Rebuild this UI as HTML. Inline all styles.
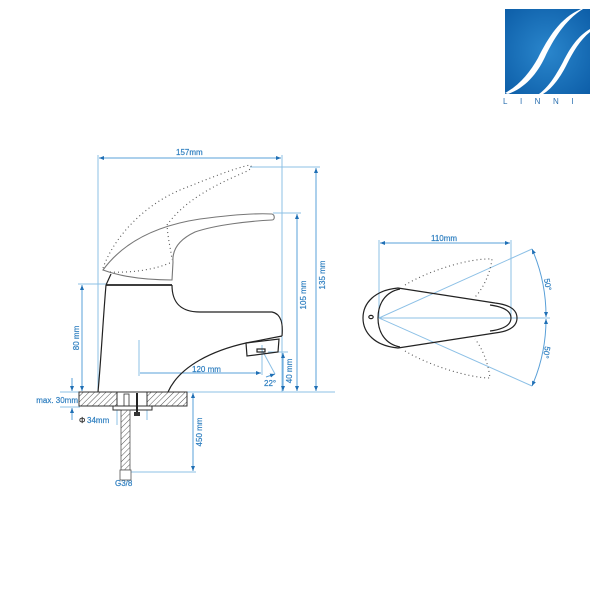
<!DOCTYPE html>
<html><head><meta charset="utf-8"><style>
html,body{margin:0;padding:0;background:#fff;}
svg{display:block}
text{font-family:"Liberation Sans",Arial,sans-serif;fill:#2f7fc0;stroke:#2f7fc0;stroke-width:0.2;}
</style></head><body>
<svg width="600" height="600" viewBox="0 0 600 600" xmlns="http://www.w3.org/2000/svg">
<defs>
<marker id="a" viewBox="0 0 10 10" refX="10" refY="5" markerWidth="5" markerHeight="5" orient="auto-start-reverse"><path d="M0,1 L10,5 L0,9z" fill="#1f6fb5"/></marker>
<pattern id="h" width="4" height="4" patternUnits="userSpaceOnUse" patternTransform="rotate(45)"><line x1="0" y1="0" x2="0" y2="4" stroke="#555" stroke-width="1"/></pattern>
<radialGradient id="lg" cx="0.5" cy="0.5" r="0.7"><stop offset="0" stop-color="#2a86cc"/><stop offset="1" stop-color="#0d5ea8"/></radialGradient>
</defs>

<!-- Logo -->
<rect x="505" y="9" width="85" height="85" fill="url(#lg)"/>
<path d="M505,93 C520,85 530,72 538,58 C548,38 560,18 581,9 L583,9 C565,20 553,40 545,57 C537,74 525,88 508,94z" fill="#fff"/>
<path d="M539,94 C550,86 557,73 563,62 C570,48 578,36 590,29 L590,32 C580,40 573,52 567,64 C561,76 553,88 543,94z" fill="#fff"/>
<text x="503" y="104" font-size="8" letter-spacing="12.5" style="fill:#2a6fb0;stroke:none">LINNI</text>

<g stroke="#8cc0e6" stroke-width="1" fill="none">
<line x1="98" y1="155" x2="98" y2="392"/>
<line x1="282" y1="155" x2="282" y2="392"/>
<line x1="250" y1="167" x2="320" y2="167"/>
<line x1="273" y1="213" x2="301" y2="213"/>
<line x1="78" y1="284" x2="106" y2="284"/>
<line x1="60" y1="392" x2="335" y2="392"/>
<line x1="60" y1="407" x2="80" y2="407"/>
<line x1="139" y1="340" x2="139" y2="376"/>
<line x1="268" y1="352" x2="288" y2="352"/>
<line x1="262" y1="345" x2="262" y2="375"/>
<line x1="262" y1="350" x2="275" y2="374"/>
<line x1="130" y1="472" x2="196" y2="472"/>
<line x1="147" y1="407" x2="147" y2="420"/>
<line x1="117" y1="410" x2="117" y2="425"/>
<line x1="379" y1="240" x2="379" y2="318"/>
<line x1="511" y1="240" x2="511" y2="318"/>
<line x1="379" y1="318" x2="550" y2="318"/>
<line x1="379" y1="318" x2="532" y2="249"/>
<line x1="379" y1="318" x2="532" y2="386"/>
</g>
<g stroke="#5aa0d8" stroke-width="1" fill="none">
<line x1="99" y1="158" x2="281" y2="158" marker-start="url(#a)" marker-end="url(#a)"/>
<line x1="316" y1="168" x2="316" y2="391" marker-start="url(#a)" marker-end="url(#a)"/>
<line x1="297" y1="214" x2="297" y2="391" marker-start="url(#a)" marker-end="url(#a)"/>
<line x1="82" y1="285" x2="82" y2="391" marker-start="url(#a)" marker-end="url(#a)"/>
<line x1="140" y1="373" x2="261" y2="373" marker-end="url(#a)"/>
<line x1="283" y1="353" x2="283" y2="391" marker-start="url(#a)" marker-end="url(#a)"/>
<line x1="193" y1="393" x2="193" y2="471" marker-start="url(#a)" marker-end="url(#a)"/>
<line x1="72" y1="378" x2="72" y2="391" marker-end="url(#a)"/>
<line x1="72" y1="420" x2="72" y2="408" marker-end="url(#a)"/>
<line x1="380" y1="243" x2="510" y2="243" marker-start="url(#a)" marker-end="url(#a)"/>
<path d="M532,249 A167,167 0 0 1 546,317" marker-start="url(#a)" marker-end="url(#a)"/>
<path d="M546,319 A167,167 0 0 1 532,386" marker-start="url(#a)" marker-end="url(#a)"/>
<line x1="266" y1="377" x2="275" y2="374" marker-end="url(#a)"/>
</g>

<text x="176" y="155" font-size="8">157mm</text>
<text x="192" y="372" font-size="8">120 mm</text>
<text x="264" y="386" font-size="8">22°</text>
<text x="87" y="423" font-size="8">34mm</text>
<text x="79" y="423" font-size="8" style="fill:#333;stroke:#333">Φ</text>
<text x="78" y="403" font-size="8" text-anchor="end">max. 30mm</text>
<text x="115" y="486" font-size="8">G3/8</text>
<text x="431" y="241" font-size="8">110mm</text>
<text transform="translate(325,275) rotate(-90)" font-size="8" text-anchor="middle">135 mm</text>
<text transform="translate(306,295) rotate(-90)" font-size="8" text-anchor="middle">105 mm</text>
<text transform="translate(292,371) rotate(-90)" font-size="8" text-anchor="middle">40 mm</text>
<text transform="translate(79,338) rotate(-90)" font-size="8" text-anchor="middle">80 mm</text>
<text transform="translate(202,432) rotate(-90)" font-size="8" text-anchor="middle">450 mm</text>
<text transform="translate(545,285) rotate(80)" font-size="8" text-anchor="middle">50°</text>
<text transform="translate(544,352) rotate(100)" font-size="8" text-anchor="middle">50°</text>

<g stroke="#222" stroke-width="1.2" fill="none">
<path d="M106,285 C103,320 101,360 98,392"/>
<line x1="106" y1="285" x2="172" y2="285" stroke-width="1.8"/>
<path d="M172,285 C172,300 178,312 200,312 L272,312 C282,314 283,325 282,336"/>
<path d="M282,336 L246,343 C215,350 180,365 168,392"/>
<path d="M246,343 L279,339 L278,352 L247,356z"/>
<rect x="257" y="349" width="8" height="3"/>
<path d="M106,285 L111,274"/>
</g>
<g stroke="#777" stroke-width="1.1" fill="none">
<path d="M103,270 C125,240 160,225 200,219 C230,215 255,213 272,214 C275,215 275,220 272,220 C250,221 215,225 195,232 C178,240 172,250 173,262 L172,280 C150,280 125,278 103,270z"/>
</g>
<g stroke="#555" stroke-width="1.1" fill="none" stroke-dasharray="1,3">
<path d="M103,268 C115,235 145,205 180,190 C210,178 235,168 250,165 C253,167 250,170 245,172 C215,185 185,200 167,225 C168,240 171,250 172,260"/>
<path d="M110,272 C130,273 155,270 172,262"/>
<path d="M405,285 C430,270 470,258 492,259 C490,275 482,290 475,297"/>
<path d="M405,351 C430,366 470,378 490,378 C488,362 482,348 475,339"/>
</g>
<rect x="79" y="392" width="108" height="14" fill="url(#h)" stroke="#333" stroke-width="1"/>
<rect x="117" y="392" width="30" height="14" fill="#fff" stroke="#333" stroke-width="1"/>
<rect x="113" y="406" width="39" height="4" fill="#fff" stroke="#333" stroke-width="1"/>
<rect x="121" y="410" width="9" height="60" fill="url(#h)" stroke="#555" stroke-width="0.8"/>
<rect x="120" y="470" width="11" height="10" fill="#fff" stroke="#555" stroke-width="0.8"/>
<line x1="137" y1="393" x2="137" y2="412" stroke="#222" stroke-width="2"/>
<rect x="124" y="394" width="5" height="12" fill="none" stroke="#333" stroke-width="0.8"/>
<rect x="134" y="412" width="6" height="4" fill="#333"/>

<g stroke="#222" stroke-width="1.2" fill="none">
<path d="M398,288 C375,290 363,303 363,318 C363,333 375,346 398,348 L495,333 C512,331 517,325 517,318 C517,311 512,305 495,303z"/>
<path d="M400,289 C385,292 378,304 378,318 C378,332 385,344 400,347 M490,305 C505,307 511,312 511,318 C511,324 505,329 490,331"/>
<ellipse cx="371" cy="317" rx="2.2" ry="1.6"/>
</g>
</svg>
</body></html>
